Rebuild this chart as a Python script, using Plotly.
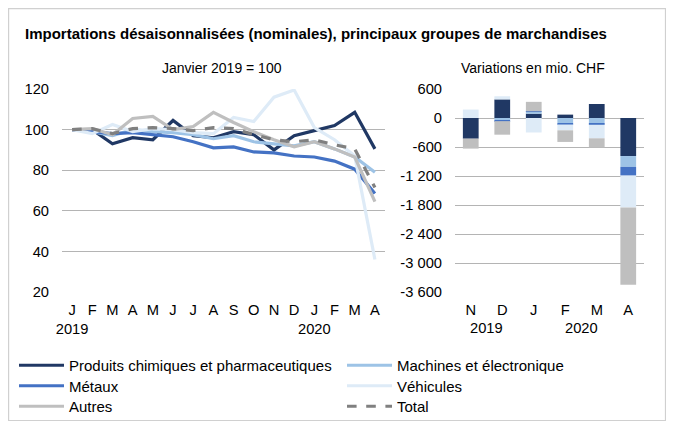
import plotly.graph_objects as go

# The page body adds an 8 px offset, so the figure is drawn 8 px smaller
# and every reference pixel position is shifted by that offset.
OFF = 8
W, H = 674 - OFF, 428 - OFF

# ---------------- data ----------------
months = ["J", "F", "M", "A", "M", "J", "J", "A", "S", "O", "N", "D", "J", "F", "M", "A"]
year_labels = {0: "2019", 12: "2020"}

chem = [100, 100, 93, 96, 95, 104.5, 97, 96, 99, 97.5, 90, 97, 99.5, 102, 108.5, 90.5]
machines = [100, 99, 97, 100, 99, 98.5, 97.5, 95.5, 97, 94, 93, 92, 94, 90.5, 86.5, 79]
metals = [100, 99, 98, 98.5, 97.5, 96.5, 94, 91, 91.5, 89, 88.5, 87, 86.5, 84.5, 80.5, 68.5]
vehicles = [100, 98, 102.5, 99, 100.5, 100, 98.5, 98, 106, 104, 116, 119.5, 101, 95, 87, 36]
autres = [100, 100.5, 97.5, 105.5, 106.5, 100, 101.5, 108.5, 103.5, 99, 95, 91.5, 94, 90.5, 86.5, 64.5]
total = [100, 100.5, 98, 100.5, 101, 100.5, 99.5, 101, 100.5, 97.5, 95, 94, 95, 92.5, 90.5, 71.5]

bar_months = ["N", "D", "J", "F", "M", "A"]
bar_years = [("2019", 0.5), ("2020", 3.5)]
chem_d = [-428, 385, 89, 70, 290, -787]
machines_d = [0, -45, 45, -110, -115, -225]
metals_d = [0, -20, 5, -25, -25, -180]
vehicles_d = [175, 65, -300, -120, -280, -660]
autres_d = [-205, -280, 195, -240, -190, -1600]

left_ticks = [20, 40, 60, 80, 100, 120]
right_ticks = [600, 0, -600, -1200, -1800, -2400, -3000, -3600]
right_ticktext = ["600", "0", "-600", "-1 200", "-1 800", "-2 400", "-3 000", "-3 600"]

# ---------------- styling ----------------
C_CHEM = "#203864"
C_MACH = "#9DC3E6"
C_MET = "#4472C4"
C_VEH = "#DEEBF7"
C_AUT = "#BFBFBF"
C_TOT = "#808080"
GRID = "#B4B4B4"
FONT = "Liberation Sans, Arial, sans-serif"


def fx(x):
    return (x - OFF) / W


def fy(y):
    return 1 - (y - OFF) / H


fig = go.Figure()

idx = list(range(len(months)))
# name, values, colour, dash, legend column x (px), legend row centre y (px)
line_series = [
    ("Produits chimiques et pharmaceutiques", chem, C_CHEM, "solid", 14, 366),
    ("Machines et électronique", machines, C_MACH, "solid", 342, 366),
    ("Métaux", metals, C_MET, "solid", 14, 386.5),
    ("Véhicules", vehicles, C_VEH, "solid", 342, 386.5),
    ("Autres", autres, C_AUT, "solid", 14, 407),
    ("Total", total, C_TOT, "dash", 342, 407),
]
legend_layouts = {}
for i, (name, vals, col, dash, lx, ly) in enumerate(line_series):
    lg = "legend" if i == 0 else "legend%d" % (i + 1)
    fig.add_trace(go.Scatter(
        x=idx, y=vals, mode="lines", name=name,
        line=dict(color=col, width=3.2, dash=dash),
        legend=lg, xaxis="x", yaxis="y",
    ))
    legend_layouts[lg] = dict(
        x=fx(lx), y=fy(ly - 17), xanchor="left", yanchor="top", orientation="v",
        font=dict(family=FONT, size=15, color="#000000"), itemwidth=45,
        bgcolor="rgba(0,0,0,0)", borderwidth=0,
    )

bidx = list(range(len(bar_months)))
bar_series = [
    (chem_d, C_CHEM), (machines_d, C_MACH), (metals_d, C_MET),
    (vehicles_d, C_VEH), (autres_d, C_AUT),
]
for vals, col in bar_series:
    fig.add_trace(go.Bar(
        x=bidx, y=vals, marker=dict(color=col, line=dict(width=0)),
        width=0.5, showlegend=False, xaxis="x2", yaxis="y2",
    ))

left_ticktext = [m + ("<br>" + year_labels[i] if i in year_labels else "") for i, m in enumerate(months)]

tickfont = dict(family=FONT, size=14.7, color="#000000")
ydom = [fy(292), fy(89)]

common = dict(automargin=False, showline=False, ticks="", zeroline=False, tickfont=tickfont)

fig.update_layout(
    template="none",
    width=W, height=H,
    margin=dict(l=0, r=0, t=0, b=0, autoexpand=False),
    paper_bgcolor="white", plot_bgcolor="white",
    barmode="relative",
    font=dict(family=FONT, size=14.7, color="#000000"),
    xaxis=dict(domain=[fx(62), fx(385)], range=[-0.5, 15.5], tickvals=idx, ticktext=left_ticktext,
               showgrid=False, tickangle=0, ticklabelstandoff=7, anchor="y", **common),
    yaxis=dict(domain=ydom, range=[20, 120], tickvals=left_ticks, showgrid=True, gridcolor=GRID,
               gridwidth=1, ticklabelstandoff=12, anchor="x", **common),
    xaxis2=dict(domain=[fx(455), fx(644)], range=[-0.5, 5.5], tickvals=bidx, ticktext=bar_months,
                showgrid=False, tickangle=0, ticklabelstandoff=7, anchor="y2", **common),
    yaxis2=dict(domain=ydom, range=[-3600, 600], tickvals=right_ticks, ticktext=right_ticktext,
                showgrid=True, gridcolor=GRID, gridwidth=1, ticklabelstandoff=12, anchor="x2",
                **common),
    showlegend=True,
    **legend_layouts,
)
fig.update_yaxes(zeroline=True, zerolinecolor=GRID, zerolinewidth=1, selector=dict(anchor="x2"))

annotations = [
    dict(text="<b>Importations désaisonnalisées (nominales), principaux groupes de marchandises</b>",
         x=fx(23), y=fy(33), xref="paper", yref="paper", xanchor="left", yanchor="middle",
         showarrow=False, font=dict(family=FONT, size=15, color="#000000")),
    dict(text="Janvier 2019 = 100", x=fx(222), y=fy(68), xref="paper", yref="paper",
         xanchor="center", yanchor="middle", showarrow=False,
         font=dict(family=FONT, size=14, color="#000000")),
    dict(text="Variations en mio. CHF", x=fx(533), y=fy(68), xref="paper", yref="paper",
         xanchor="center", yanchor="middle", showarrow=False,
         font=dict(family=FONT, size=14, color="#000000")),
]
for label, pos in bar_years:
    annotations.append(dict(text=label, x=pos, y=fy(328), xref="x2", yref="paper",
                            xanchor="center", yanchor="middle", showarrow=False,
                            font=dict(family=FONT, size=14.7, color="#000000")))
fig.update_layout(annotations=annotations)

fig.add_shape(type="rect", xref="paper", yref="paper", x0=fx(8.6), x1=fx(665.5),
              y0=fy(420.5), y1=fy(8.6),
              line=dict(color="#D0D0D0", width=1.2), fillcolor="rgba(0,0,0,0)", layer="below")

fig.write_html("out.html")
